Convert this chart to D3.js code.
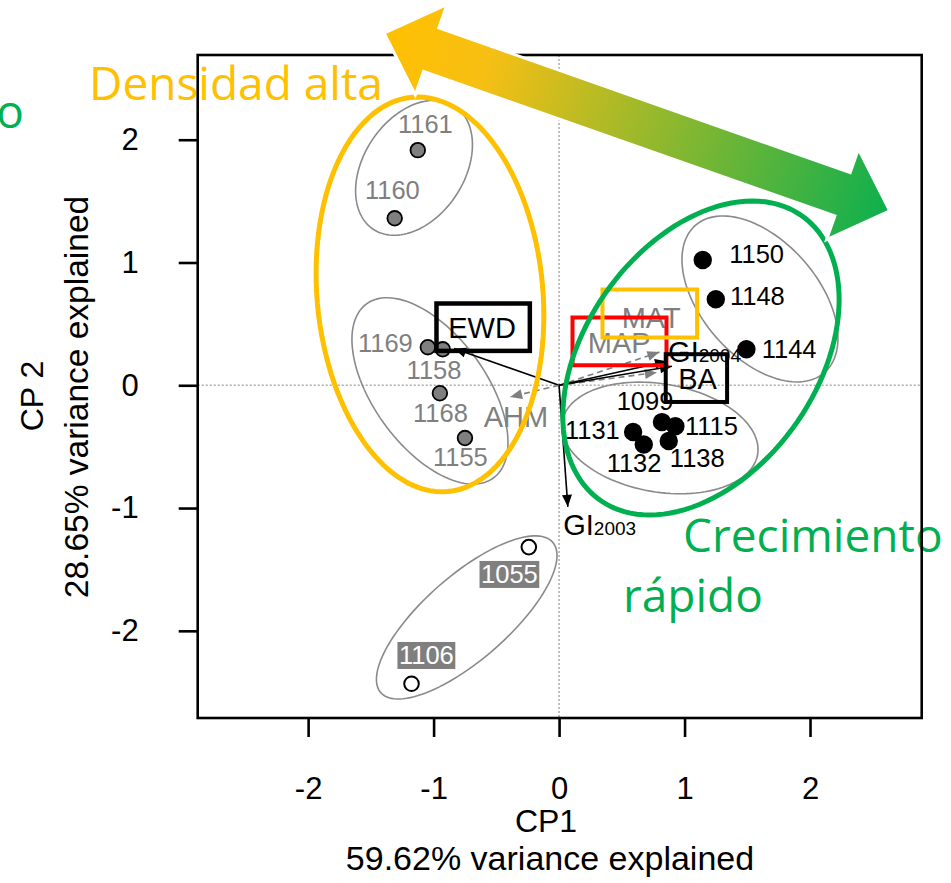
<!DOCTYPE html>
<html><head><meta charset="utf-8">
<script src="https://cdn.jsdelivr.net/npm/d3@7"></script>
<style>body{margin:0;background:#fff}svg{display:block}</style>
</head><body>
<svg id="c" width="951" height="883"></svg>
<script>
// ---------- data ----------
const xTicks = [-2, -1, 0, 1, 2];
const yTicks = [-2, -1, 0, 1, 2];
const xTitle = ["CP1", "59.62% variance explained"];
const yTitle = ["CP 2", "28.65% variance explained"];

const sites    = ["1161","1160","1169","1158","1168","1155","1150","1148","1144","1099","1115","1131","1132","1138","1055","1106"];
const siteCP1  = [-1.126,-1.31,-1.046,-0.927,-0.95,-0.75, 1.145,1.249,1.493, 0.82,0.927,0.59,0.675,0.874, -0.241,-1.176];
const siteCP2  = [ 1.915, 1.36, 0.31, 0.293,-0.065,-0.43, 1.02,0.701,0.293, -0.30,-0.334,-0.38,-0.483,-0.454, -1.318,-2.431];
const siteGrp  = ["A","A","A","A","A","A","B","B","B","B","B","B","B","B","C","C"];
// label anchor (start, baseline) in CP units
const labCP1   = [-1.284,-1.547,-1.603,-1.215,-1.164,-1.005, 1.356,1.362,1.615, 0.459,1.003,0.047,0.379,0.883, -0.622,-1.276];
const labCP2   = [ 2.055, 1.517, 0.274, 0.051,-0.296,-0.655, 0.994,0.654,0.220, -0.201,-0.405,-0.440,-0.704,-0.668, -1.610,-2.270];

const vars     = ["EWD","MAT","MAP","GI2004","BA","AHM","GI2003"];
const varCP1   = [-0.837, 0.80, 0.78, 0.86, 0.90, -0.39, 0.07];
const varCP2   = [ 0.30, 0.27, 0.105, 0.196, 0.155, -0.095, -0.99];
const varSolid = [true, false, false, true, true, false, true];
const varLab1  = [-0.883, 0.499, 0.229, 0.869, 0.949, -0.600, 0.033];
const varLab2  = [ 0.383, 0.467, 0.264, 0.192, -0.032, -0.338, -1.219];

// group ellipses: centre, semi-axes, angle (deg)
const ellCx = [-1.156, -1.029, 1.601, 0.804, -0.736];
const ellCy = [ 1.771, -0.046, 0.703, -0.429, -1.891];
const ellA  = [ 0.597, 0.871, 0.79, 0.79, 0.919];
const ellB  = [ 0.403, 0.452, 0.468, 0.44, 0.339];
const ellAng= [ 58, -55, -50, -10, 42];

// annotation ellipses
const annNames = ["Densidad alta", "Crecimiento rápido"];
const annCx = [-1.029, 1.131];
const annCy = [ 0.740, 0.222];
const annA  = [ 1.612, 1.41];
const annB  = [ 0.90, 0.927];
const annAng= [ 95, 56];

// highlight boxes [x0, x1, yTop, yBottom] in CP units
const boxVar = ["MAP","MAT","EWD","BA"];
const boxX0 = [0.107, 0.346, -0.977, 0.850];
const boxX1 = [0.856, 1.100, -0.233, 1.339];
const boxY0 = [0.552, 0.780, 0.666, 0.253];
const boxY1 = [0.163, 0.389, 0.280, -0.136];

// big double arrow tips
const bigArrowCP1 = [-1.395, 2.635];
const bigArrowCP2 = [ 2.869, 1.420];

// ---------- drawing ----------
const svg = d3.select("#c");
const x = d3.scaleLinear().domain([-2.88, 2.89]).range([197.7, 921.7]);
const y = d3.scaleLinear().domain([-2.71, 2.69]).range([718, 55]);
const AR = "Liberation Sans, Arial, sans-serif";
const CAL = "Open Sans, sans-serif";
const GREY = "#7f7f7f", YEL = "#FFC000", GRN = "#00B050";

// annotation texts (under frame)
svg.append("text").attr("x", 89).attr("y", 100).attr("font-family", CAL).attr("font-size", 46)
  .attr("fill", YEL).text(annNames[0]);
svg.append("text").attr("x", 24).attr("y", 128).attr("text-anchor", "end").attr("font-family", CAL)
  .attr("font-size", 46).attr("fill", GRN).text("o");
const cr = annNames[1].split(" ");
svg.append("text").attr("x", 683).attr("y", 552).attr("font-family", CAL).attr("font-size", 46)
  .attr("fill", GRN).text(cr[0]);
svg.append("text").attr("x", 623).attr("y", 612).attr("font-family", CAL).attr("font-size", 46)
  .attr("fill", GRN).text(cr[1]);

// zero lines
svg.append("line").attr("x1", x(0)).attr("x2", x(0)).attr("y1", y.range()[1]).attr("y2", y.range()[0])
  .attr("stroke", "#aaa").attr("stroke-width", 1.5).attr("stroke-dasharray", "2,2");
svg.append("line").attr("y1", y(0)).attr("y2", y(0)).attr("x1", x.range()[0]).attr("x2", x.range()[1])
  .attr("stroke", "#aaa").attr("stroke-width", 1.5).attr("stroke-dasharray", "2,2");

// frame
svg.append("rect").attr("x", x.range()[0]).attr("y", y.range()[1])
  .attr("width", x.range()[1] - x.range()[0]).attr("height", y.range()[0] - y.range()[1])
  .attr("fill", "none").attr("stroke", "#000").attr("stroke-width", 2.6);

// axes
const xAxis = d3.axisBottom(x).tickValues(xTicks).tickSize(19).tickPadding(40).tickFormat(d3.format("d"));
const gx = svg.append("g").attr("transform", `translate(0,${y.range()[0]})`).call(xAxis);
gx.select(".domain").remove();
gx.selectAll("line").attr("stroke-width", 2.6);
gx.selectAll("text").attr("font-family", AR).attr("font-size", 31).attr("fill", "#000")
  .text(d => (d < 0 ? "-" : "") + Math.abs(d));
const yAxis = d3.axisLeft(y).tickValues(yTicks).tickSize(19).tickPadding(40).tickFormat(d3.format("d"));
const gy = svg.append("g").attr("transform", `translate(${x.range()[0]},0)`).call(yAxis);
gy.select(".domain").remove();
gy.selectAll("line").attr("stroke-width", 2.6);
gy.selectAll("text").attr("font-family", AR).attr("font-size", 31).attr("fill", "#000")
  .text(d => (d < 0 ? "-" : "") + Math.abs(d));

// axis titles
svg.append("text").attr("x", 546).attr("y", 832).attr("text-anchor", "middle").attr("font-family", AR)
  .attr("font-size", 32).text(xTitle[0]);
svg.append("text").attr("x", 550).attr("y", 870).attr("text-anchor", "middle").attr("font-family", AR)
  .attr("font-size", 34).text(xTitle[1]);
svg.append("text").attr("transform", "translate(43,396) rotate(-90)").attr("text-anchor", "middle")
  .attr("font-family", AR).attr("font-size", 32).text(yTitle[0]);
svg.append("text").attr("transform", "translate(88,397) rotate(-90)").attr("text-anchor", "middle")
  .attr("font-family", AR).attr("font-size", 33.5).text(yTitle[1]);

// ellipse helper
function ellPts(cx, cy, a, b, ang) {
  const t = ang * Math.PI / 180, pts = [];
  for (let i = 0; i < 120; i++) {
    const u = i / 120 * 2 * Math.PI;
    const ex = a * Math.cos(u), ey = b * Math.sin(u);
    pts.push([x(cx + ex * Math.cos(t) - ey * Math.sin(t)), y(cy + ex * Math.sin(t) + ey * Math.cos(t))]);
  }
  return pts;
}
const closed = d3.line().curve(d3.curveLinearClosed);

// group ellipses
ellCx.forEach((cx, i) => {
  svg.append("path").attr("d", closed(ellPts(cx, ellCy[i], ellA[i], ellB[i], ellAng[i])))
    .attr("fill", "none").attr("stroke", "#8a8a8a").attr("stroke-width", 1.6);
});

// variable arrows
const defs = svg.append("defs");
function head(x1, y1, x2, y2, col) {
  const a = Math.atan2(y2 - y1, x2 - x1), L = 12, W = 5;
  const bx = x2 - L * Math.cos(a), by = y2 - L * Math.sin(a);
  const p = [[x2, y2], [bx + W * Math.sin(a), by - W * Math.cos(a)], [bx - W * Math.sin(a), by + W * Math.cos(a)]];
  svg.append("path").attr("d", closed(p)).attr("fill", col);
}
vars.forEach((v, i) => {
  const col = varSolid[i] ? "#000" : GREY;
  const x1 = x(0), y1 = y(0), x2 = x(varCP1[i]), y2 = y(varCP2[i]);
  svg.append("line").attr("x1", x1).attr("y1", y1).attr("x2", x2).attr("y2", y2)
    .attr("stroke", col).attr("stroke-width", 1.6).attr("stroke-dasharray", varSolid[i] ? null : "6,4");
  head(x1, y1, x2, y2, col);
});

// points
siteCP1.forEach((v, i) => {
  const g = siteGrp[i];
  svg.append("circle").attr("cx", x(v)).attr("cy", y(siteCP2[i]))
    .attr("r", g === "B" ? 8.3 : 7.3)
    .attr("fill", g === "A" ? GREY : g === "B" ? "#000" : "#fff")
    .attr("stroke", "#000").attr("stroke-width", g === "C" ? 2 : 1.8);
});

// site labels
sites.forEach((s, i) => {
  const g = siteGrp[i];
  const t = svg.append("text").attr("x", x(labCP1[i])).attr("y", y(labCP2[i]))
    .attr("font-family", AR).attr("font-size", 25.5)
    .attr("fill", g === "A" ? GREY : g === "B" ? "#000" : "#fff").text(s);
  if (g === "C") {
    const bb = t.node().getBBox();
    svg.insert("rect", () => t.node()).attr("x", bb.x - 1.5).attr("y", bb.y + 1).attr("width", bb.width + 3)
      .attr("height", bb.height - 1).attr("fill", GREY);
  }
});

// variable labels
vars.forEach((v, i) => {
  const col = varSolid[i] ? "#000" : GREY;
  const t = svg.append("text").attr("x", x(varLab1[i])).attr("y", y(varLab2[i]))
    .attr("font-family", AR).attr("font-size", 29).attr("fill", col);
  const m = v.match(/^([A-Z]+)(\d+)?$/);
  t.append("tspan").text(m[1]);
  if (m[2]) t.append("tspan").attr("font-size", 19).text(m[2]);
});

// highlight boxes
const boxCol = {MAP: "#FF0000", MAT: YEL, EWD: "#000", BA: "#000"};
boxVar.forEach((b, i) => {
  svg.append("rect").attr("x", x(boxX0[i])).attr("y", y(boxY0[i]))
    .attr("width", x(boxX1[i]) - x(boxX0[i])).attr("height", y(boxY1[i]) - y(boxY0[i]))
    .attr("fill", "none").attr("stroke", boxCol[b]).attr("stroke-width", b === "EWD" ? 4.5 : 4);
});

// annotation ellipses
[YEL, GRN].forEach((c, i) => {
  svg.append("path").attr("d", closed(ellPts(annCx[i], annCy[i], annA[i], annB[i], annAng[i])))
    .attr("fill", "none").attr("stroke", c).attr("stroke-width", 5);
});

// big gradient double arrow
const P = [x(bigArrowCP1[0]), y(bigArrowCP2[0])], Q = [x(bigArrowCP1[1]), y(bigArrowCP2[1])];
const grad = defs.append("linearGradient").attr("id", "g").attr("gradientUnits", "userSpaceOnUse")
  .attr("x1", P[0]).attr("y1", P[1]).attr("x2", Q[0]).attr("y2", Q[1]);
grad.append("stop").attr("offset", 0).attr("stop-color", "#FFC000");
grad.append("stop").attr("offset", 0.2).attr("stop-color", "#F7BF14");
grad.append("stop").attr("offset", 1).attr("stop-color", "#0DAF4E");
const dx = Q[0] - P[0], dy = Q[1] - P[1], len = Math.hypot(dx, dy);
const ux = dx / len, uy = dy / len, nx = -uy, ny = ux;
const HL = 50, HW = 48, SW = 23;
const pt = (s, n) => [P[0] + ux * s + nx * n, P[1] + uy * s + ny * n];
const arrowPts = [pt(0, 0), pt(HL, -HW), pt(HL, -SW), pt(len - HL, -SW), pt(len - HL, -HW), pt(len, 0),
  pt(len - HL, HW), pt(len - HL, SW), pt(HL, SW), pt(HL, HW)];
svg.append("path").attr("d", closed(arrowPts)).attr("fill", "url(#g)")
  .attr("stroke", "#fff").attr("stroke-width", 3).attr("stroke-linejoin", "miter");
</script>
</body></html>
